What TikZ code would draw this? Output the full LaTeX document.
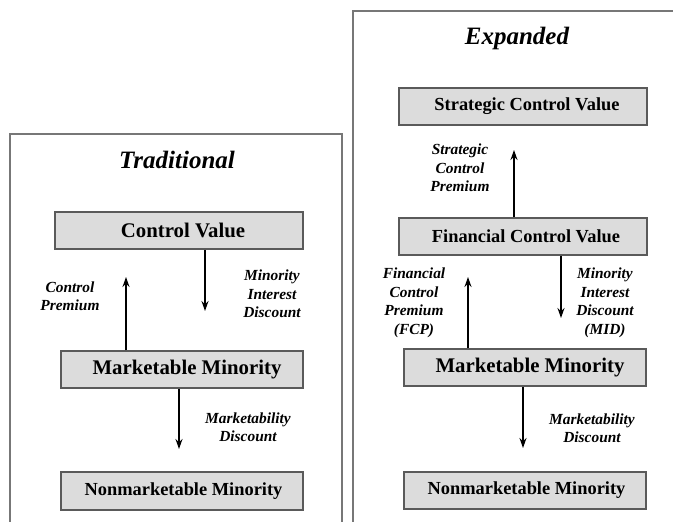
\documentclass[tikz,border=0pt]{standalone}
\usepackage{fontspec}
\setmainfont{Liberation Serif}
\usetikzlibrary{arrows.meta}
\definecolor{boxfill}{HTML}{DCDCDC}
\definecolor{boxline}{HTML}{5A5A5A}
\definecolor{frameline}{HTML}{777777}
\tikzset{
  valbox/.style={draw=boxline, line width=1.5pt, fill=boxfill, minimum width=242pt, minimum height=37pt, inner sep=0pt},
  bigtxt/.style={font=\bfseries\fontsize{20.8}{22}\selectfont},
  midtxt/.style={font=\bfseries\fontsize{18.4}{20}\selectfont},
  lbl/.style={font=\bfseries\itshape\fontsize{15.4}{18.5}\selectfont, align=center, inner sep=0pt},
  ttl/.style={font=\bfseries\itshape\fontsize{25}{28}\selectfont, inner sep=0pt},
  flow/.style={line width=2.2pt, -{Stealth[length=10pt,width=7pt]}},
  frame/.style={draw=frameline, line width=1.5pt}
}
\begin{document}
\begin{tikzpicture}[x=1pt,y=-1pt]
\useasboundingbox (0,0) rectangle (673,522);
% frames
\draw[frame] (10,522) -- (10,134) -- (342,134) -- (342,522);
\draw[frame] (353,522) -- (353,11) -- (673,11);
% ---------- Traditional ----------
\node[ttl] (t1) at (177,160) {Traditional};
\node[valbox, bigtxt, minimum width=248pt] (cv) at (179,230.5) {\hspace*{8pt}Control Value};
\node[valbox, bigtxt] (mm1) at (182,369.5) {\hspace*{10pt}Marketable Minority};
\node[valbox, midtxt, minimum height=38pt] (nm1) at (182,491) {\hspace*{3pt}Nonmarketable Minority};
\coordinate (cvend) at (205,311);
\coordinate (cpend) at (126,277);
\coordinate (md1end) at (179,449);
\draw[flow] (cv.south -| cvend) -- (cvend);
\draw[flow] (mm1.north -| cpend) -- (cpend);
\draw[flow] (mm1.south -| md1end) -- (md1end);
\node[lbl] (l1) at (272,294) {Minority\\Interest\\Discount};
\node[lbl] (l2) at (70,296) {Control\\Premium};
\node[lbl] (l3) at (248,427) {Marketability\\Discount};
% ---------- Expanded ----------
\node[ttl] (t2) at (517,38) {Expanded};
\node[valbox, midtxt, minimum width=248pt] (scv) at (523,106.5) {\hspace*{8pt}Strategic Control Value};
\node[valbox, midtxt, minimum width=248pt] (fcv) at (523,236.5) {\hspace*{6pt}Financial Control Value};
\node[valbox, bigtxt] (mm2) at (525,367.5) {\hspace*{10pt}Marketable Minority};
\node[valbox, midtxt] (nm2) at (525,490.5) {\hspace*{3pt}Nonmarketable Minority};
\coordinate (scpend) at (514,150);
\coordinate (midend) at (561,318);
\coordinate (fcpend) at (468,277);
\coordinate (md2end) at (523,448);
\draw[flow] (fcv.north -| scpend) -- (scpend);
\draw[flow] (fcv.south -| midend) -- (midend);
\draw[flow] (mm2.north -| fcpend) -- (fcpend);
\draw[flow] (mm2.south -| md2end) -- (md2end);
\node[lbl] (l4) at (460,168) {Strategic\\Control\\Premium};
\node[lbl] (l5) at (414,303) {Financial\\Control\\Premium\\(FCP)};
\node[lbl] (l6) at (605,303) {Minority\\Interest\\Discount\\(MID)};
\node[lbl] (l7) at (592,428) {Marketability\\Discount};
\end{tikzpicture}
\end{document}
